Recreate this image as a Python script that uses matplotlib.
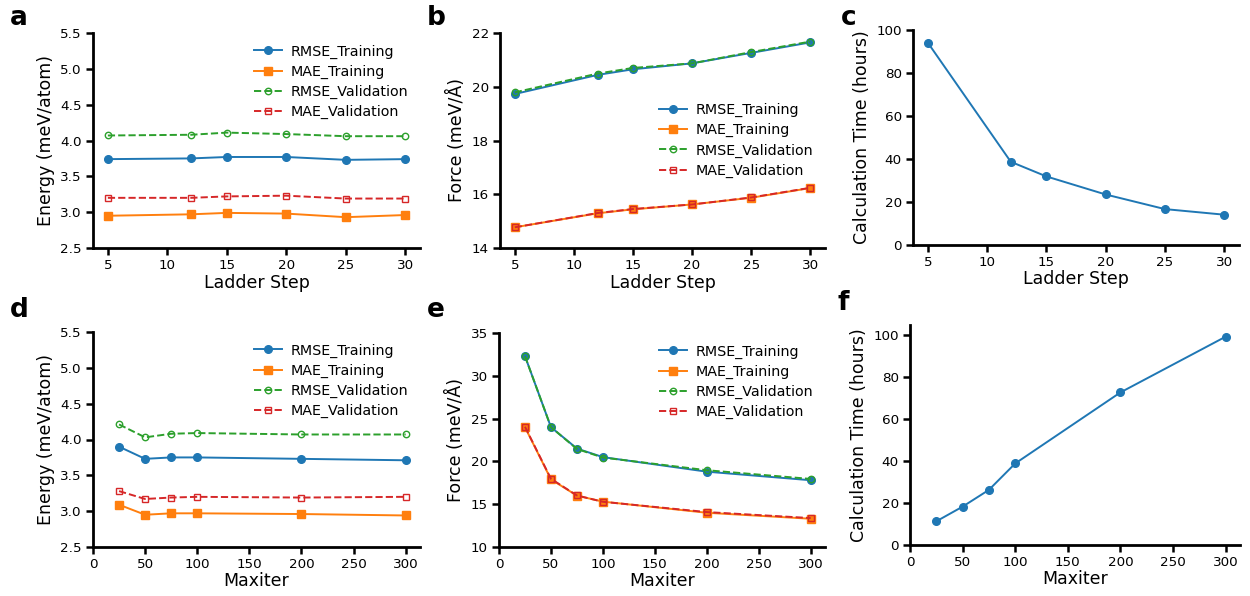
import matplotlib
matplotlib.use("Agg")
import matplotlib.pyplot as plt

# ---- data ----
ladder_step = [5, 12, 15, 20, 25, 30]
maxiter = [25, 50, 75, 100, 200, 300]

a_rmse_train = [3.74, 3.75, 3.77, 3.77, 3.73, 3.74]
a_mae_train = [2.95, 2.97, 2.99, 2.98, 2.93, 2.96]
a_rmse_val = [4.07, 4.08, 4.11, 4.09, 4.06, 4.06]
a_mae_val = [3.20, 3.20, 3.22, 3.23, 3.19, 3.19]

b_rmse_train = [19.73, 20.44, 20.65, 20.87, 21.26, 21.65]
b_mae_train = [14.77, 15.29, 15.44, 15.62, 15.87, 16.23]
b_rmse_val = [19.79, 20.49, 20.70, 20.87, 21.29, 21.68]
b_mae_val = [14.77, 15.30, 15.45, 15.62, 15.88, 16.24]

c_time = [94.1, 38.7, 31.9, 23.5, 16.7, 14.1]

d_rmse_train = [3.90, 3.73, 3.75, 3.75, 3.73, 3.71]
d_mae_train = [3.09, 2.95, 2.97, 2.97, 2.96, 2.94]
d_rmse_val = [4.21, 4.03, 4.08, 4.09, 4.07, 4.07]
d_mae_val = [3.28, 3.17, 3.19, 3.20, 3.19, 3.20]

e_rmse_train = [32.3, 24.0, 21.5, 20.5, 18.8, 17.8]
e_mae_train = [24.0, 17.9, 16.0, 15.3, 14.0, 13.3]
e_rmse_val = [32.3, 24.0, 21.45, 20.45, 18.97, 17.95]
e_mae_val = [24.05, 17.97, 16.02, 15.28, 14.08, 13.38]

f_time = [11.3, 18.3, 26.3, 38.9, 72.8, 99.4]

series_labels = ["RMSE_Training", "MAE_Training", "RMSE_Validation", "MAE_Validation"]

plt.rcParams['font.family'] = ['DejaVu Sans']

W, H = 1250, 596
fig = plt.figure(figsize=(W / 100, H / 100), dpi=100)


def box(l, r, t, b):
    return [l / W, 1 - b / H, (r - l) / W, (b - t) / H]


C_BLUE, C_ORANGE, C_GREEN, C_RED = "#1f77b4", "#ff7f0e", "#2ca02c", "#d62728"


def style(ax, xlabel, ylabel):
    for s in ["top", "right"]:
        ax.spines[s].set_visible(False)
    for s in ["left", "bottom"]:
        ax.spines[s].set_linewidth(2.0)
    ax.tick_params(axis="both", which="major", direction="out", length=5, width=1.8,
                   labelsize=9.7, pad=3)
    ax.set_xlabel(xlabel, fontsize=12.5, labelpad=1)
    ax.set_ylabel(ylabel, fontsize=12.5, labelpad=4)


def four(ax, x, rt, mt, rv, mv, legend_loc):
    ax.plot(x, rt, "-", color=C_BLUE, marker="o", ms=5.5, lw=1.4, label=series_labels[0])
    ax.plot(x, mt, "-", color=C_ORANGE, marker="s", ms=5.5, lw=1.4, label=series_labels[1])
    ax.plot(x, rv, "--", color=C_GREEN, marker="o", ms=4.6, lw=1.4, mfc="none",
            mew=1.0, label=series_labels[2])
    ax.plot(x, mv, "--", color=C_RED, marker="s", ms=4.6, lw=1.4, mfc="none",
            mew=1.0, label=series_labels[3])
    ax.legend(loc=legend_loc, frameon=False, fontsize=10.3, handlelength=2.0,
              handletextpad=0.6, labelspacing=0.42, borderaxespad=0.4)


# a
ax = fig.add_axes(box(93, 420, 33, 248))
four(ax, ladder_step, a_rmse_train, a_mae_train, a_rmse_val, a_mae_val, "upper right")
ax.set_ylim(2.5, 5.5)
ax.set_yticks([2.5, 3.0, 3.5, 4.0, 4.5, 5.0, 5.5])
ax.set_xticks([5, 10, 15, 20, 25, 30])
style(ax, "Ladder Step", "Energy (meV/atom)")

# b
ax = fig.add_axes(box(500, 825, 33, 248))
four(ax, ladder_step, b_rmse_train, b_mae_train, b_rmse_val, b_mae_val, "center right")
ax.set_ylim(14, 22)
ax.set_yticks([14, 16, 18, 20, 22])
ax.set_xticks([5, 10, 15, 20, 25, 30])
style(ax, "Ladder Step", "Force (meV/Å)")

# c
ax = fig.add_axes(box(913, 1239, 30, 245))
ax.plot(ladder_step, c_time, "-", color=C_BLUE, marker="o", ms=5.5, lw=1.4)
ax.set_ylim(0, 100)
ax.set_yticks([0, 20, 40, 60, 80, 100])
ax.set_xticks([5, 10, 15, 20, 25, 30])
style(ax, "Ladder Step", "Calculation Time (hours)")

# d
ax = fig.add_axes(box(93, 420, 332, 547))
four(ax, maxiter, d_rmse_train, d_mae_train, d_rmse_val, d_mae_val, "upper right")
ax.set_ylim(2.5, 5.5)
ax.set_yticks([2.5, 3.0, 3.5, 4.0, 4.5, 5.0, 5.5])
ax.set_xlim(left=0)
ax.set_xticks([0, 50, 100, 150, 200, 250, 300])
style(ax, "Maxiter", "Energy (meV/atom)")

# e
ax = fig.add_axes(box(499, 825, 333, 547))
four(ax, maxiter, e_rmse_train, e_mae_train, e_rmse_val, e_mae_val, "upper right")
ax.set_ylim(10, 35)
ax.set_yticks([10, 15, 20, 25, 30, 35])
ax.set_xlim(left=0)
ax.set_xticks([0, 50, 100, 150, 200, 250, 300])
style(ax, "Maxiter", "Force (meV/Å)")

# f
ax = fig.add_axes(box(910, 1240, 325, 545))
ax.plot(maxiter, f_time, "-", color=C_BLUE, marker="o", ms=5.5, lw=1.4)
ax.set_ylim(0, 105)
ax.set_yticks([0, 20, 40, 60, 80, 100])
ax.set_xlim(left=0)
ax.set_xticks([0, 50, 100, 150, 200, 250, 300])
style(ax, "Maxiter", "Calculation Time (hours)")

# panel letters
for letter, (px, py) in {"a": (10, 18), "b": (427, 18), "c": (841, 18),
                         "d": (10, 310), "e": (427, 310), "f": (837, 303)}.items():
    fig.text(px / W, 1 - py / H, letter, fontsize=19, fontweight="bold",
             ha="left", va="center")

fig.savefig("out.png", dpi=100)
